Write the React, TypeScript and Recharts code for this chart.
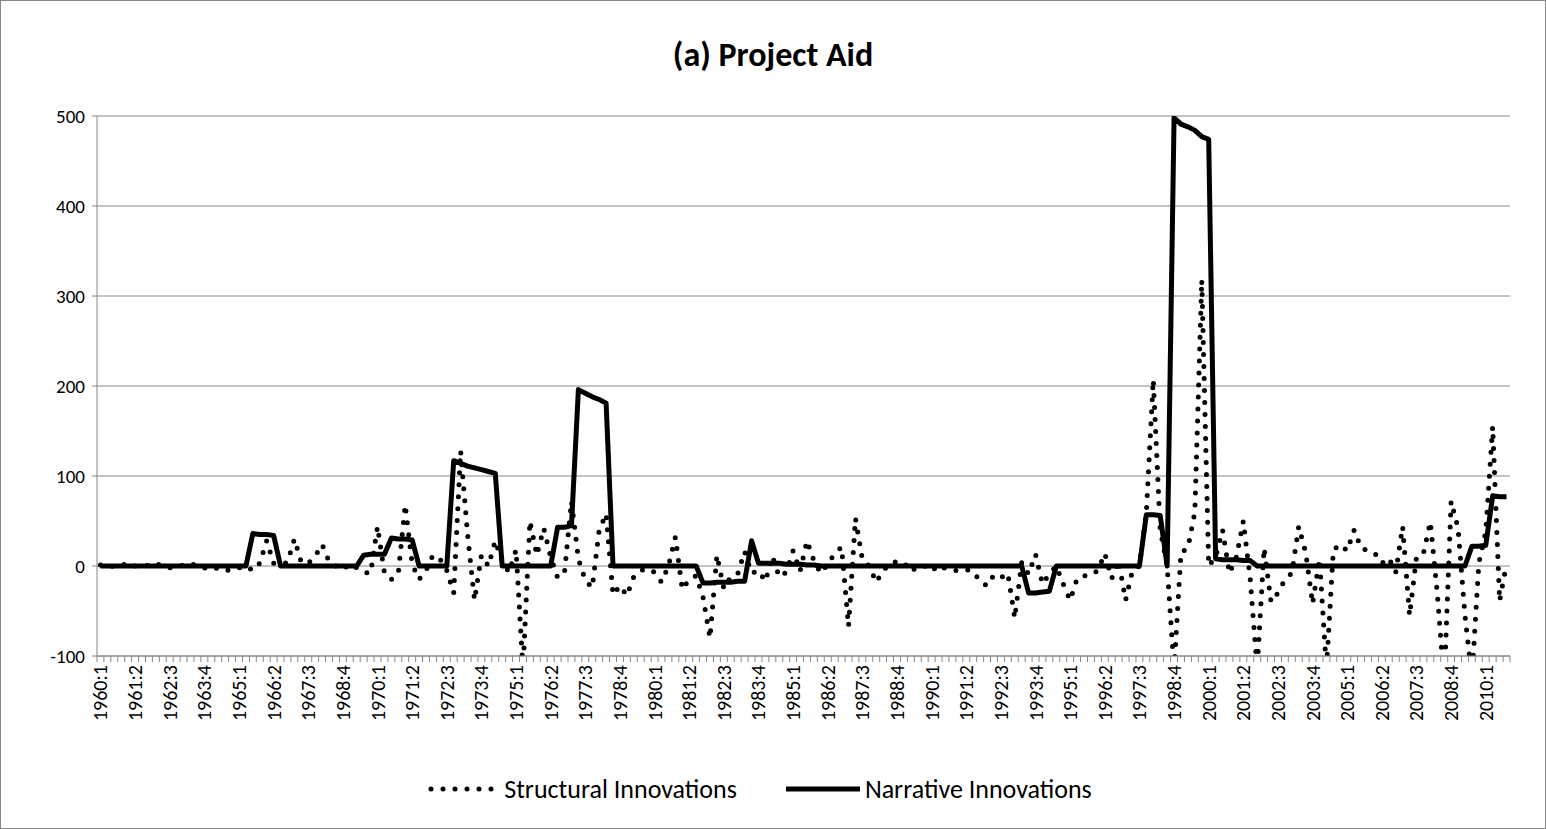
import { LineChart, Line, XAxis, YAxis, CartesianGrid, Legend } from 'recharts'

const FONT = 'Calibri, Carlito, Lato, sans-serif'
const AXIS = '#868686'

// quarterly labels 1960:1 .. 2010:4
const quarters: string[] = []
for (let y = 1960; y <= 2010; y++) {
  for (let q = 1; q <= 4; q++) quarters.push(`${y}:${q}`)
}

const yTicks = [-100, 0, 100, 200, 300, 400, 500]

// one row per year, four quarters each
const structural = [
  1, -1, 0, 1,
  3, 0, -1, 1,
  3, 0, -2, -1,
  1, 3, 0, -2,
  -4, -2, -5, -4,
  -2, 0, -5, 3,
  28, 3, 2, 4,
  30, 4, 3, 11,
  24, 5, 0, -4,
  2, -2, -7, -8,
  44, -8, -15, -8,
  68, 2, -15, -5,
  12, 8, -5, -30,
  128, 35, -38, 12,
  0, 28, 5, -7,
  18, -115, 50, 12,
  42, 10, -13, -7,
  72, 8, -16, -24,
  40, 58, -32, -22,
  -33, -12, -5, -3,
  -7, -18, 0, 32,
  -26, -15, -11, -35,
  -80, 12, -25, -12,
  -9, 16, -8, -5,
  -17, 11, -12, -7,
  17, -6, 28, 6,
  -8, 2, 14, 21,
  -67, 53, 7, 0,
  -18, -5, 3, 5,
  4, -6, -1, 0,
  -6, 1, -3, -5,
  -5, -4, -6, -17,
  -22, -10, -13, -8,
  -58, 4, -9, 13,
  -20, -9, 0, -20,
  -38, -14, -11, -10,
  -5, 14, -14, 6,
  -38, -5, 0, 60,
  207, 40, 0, -115,
  15, 20, 60, 318,
  0, 10, 40, -8,
  10, 50, -15, -115,
  20, -40, -30, -15,
  -8, 44, 15, -42,
  8, -115, 18, 24,
  17, 40, 20, 17,
  14, 3, 9, -7,
  44, -55, 10, 14,
  49, -30, -130, 72,
  42, -55, -125, 3,
  38, 155, -39, 3,
]

const narrative = [
  0, 0, 0, 0,
  0, 0, 0, 0,
  0, 0, 0, 0,
  0, 0, 0, 0,
  0, 0, 0, 0,
  0, 0, 36, 35,
  35, 34, 0, 0,
  0, 0, 0, 0,
  0, 0, 0, 0,
  0, 0, 12, 13,
  13, 13, 31, 30,
  30, 29, 0, 0,
  0, 0, 0, 117,
  114, 111, 109, 107,
  105, 103, 0, 0,
  0, 0, 0, 0,
  0, 0, 43, 43,
  45, 196, 192, 188,
  185, 181, 0, 0,
  0, 0, 0, 0,
  0, 0, 0, 0,
  0, 0, 0, -19,
  -19, -18, -18, -18,
  -17, -17, 28, 3,
  3, 3, 3, 2,
  2, 2, 1, 1,
  0, 0, 0, 0,
  0, 0, 0, 0,
  0, 0, 0, 0,
  0, 0, 0, 0,
  0, 0, 0, 0,
  0, 0, 0, 0,
  0, 0, 0, 0,
  0, 0, -30, -30,
  -29, -28, 0, 0,
  0, 0, 0, 0,
  0, 0, 0, 0,
  0, 0, 0, 57,
  57, 56, 0, 498,
  491, 488, 484, 477,
  474, 8, 7, 7,
  7, 6, 6, 0,
  0, 0, 0, 0,
  0, 0, 0, 0,
  0, 0, 0, 0,
  0, 0, 0, 0,
  0, 0, 0, 0,
  0, 0, 0, 0,
  0, 0, 0, 0,
  0, 0, 22, 22,
  23, 78, 77, 77,
]

const data = quarters.map((q, i) => ({ q, structural: structural[i], narrative: narrative[i] }))

const W = 1546
const H = 829

const XTick = ({ x, y, payload }: any) => {
  const i = quarters.indexOf(payload.value)
  const half = payload.offset || 3.46
  return (
    <g>
      <line x1={x - half} x2={x - half} y1={y - 6} y2={y} stroke={AXIS} />
      {i === quarters.length - 1 && <line x1={x + half} x2={x + half} y1={y - 6} y2={y} stroke={AXIS} />}
      {i % 5 === 0 && (
        <text
          x={x}
          y={y + 3}
          transform={`rotate(-90, ${x}, ${y + 3})`}
          textAnchor="end"
          dy="0.35em"
          fontSize={20}
          fontFamily={FONT}
          fill="#000"
        >
          {payload.value}
        </text>
      )}
    </g>
  )
}

const renderLegend = () => {
  const wrap: React.CSSProperties = {
    display: 'flex',
    justifyContent: 'center',
    alignItems: 'center',
    height: '60px',
    paddingLeft: '10px',
    fontFamily: FONT,
    fontSize: '26px',
    color: '#000',
  }
  return (
    <div style={wrap}>
      <svg width={68} height={10}>
        <line x1={3} x2={65} y1={5} y2={5} stroke="#000" strokeWidth={5} strokeDasharray="0 12" strokeLinecap="round" />
      </svg>
      <span style={{ marginLeft: '8px', marginRight: '48px' }}>Structural Innovations</span>
      <svg width={76} height={10}>
        <line x1={1} x2={75} y1={5} y2={5} stroke="#000" strokeWidth={5} />
      </svg>
      <span style={{ marginLeft: '4px' }}>Narrative Innovations</span>
    </div>
  )
}

export default function App() {
  const frame: React.CSSProperties = {
    position: 'absolute',
    left: 0,
    top: 0,
    width: W + 'px',
    height: H + 'px',
    boxSizing: 'border-box',
    border: '1px solid ' + AXIS,
    background: '#fff',
    fontFamily: FONT,
  }

  const titleStyle: React.CSSProperties = {
    position: 'absolute',
    left: 0,
    top: '33px',
    width: '100%',
    textAlign: 'center',
    fontSize: '34px',
    fontWeight: 700,
    lineHeight: '42px',
    color: '#000',
  }

  return (
    <div style={frame}>
      <div style={titleStyle}>(a) Project Aid</div>
      <div style={{ position: 'absolute', left: -1, top: -1 }}>
        <LineChart width={W} height={H} data={data} margin={{ top: 116, right: 36, left: 0, bottom: 10 }}>
          <CartesianGrid horizontal vertical={false} stroke={AXIS} strokeWidth={1} />
          <XAxis
            dataKey="q"
            scale="band"
            interval={0}
            height={103}
            tickSize={6}
            tickMargin={0}
            tickLine={false}
            axisLine={{ stroke: AXIS }}
            tick={<XTick />}
          />
          <YAxis
            domain={[-100, 500]}
            ticks={yTicks}
            allowDataOverflow
            width={97}
            tickSize={5}
            tickMargin={7}
            axisLine={{ stroke: AXIS }}
            tickLine={{ stroke: AXIS }}
            tick={{ fontSize: 19, fontFamily: FONT, fill: '#000' }}
          />
          <Legend verticalAlign="bottom" height={60} content={renderLegend} />
          <Line
            dataKey="structural"
            type="linear"
            stroke="#000"
            strokeWidth={5}
            strokeDasharray="0 12"
            strokeLinecap="round"
            dot={false}
            isAnimationActive={false}
          />
          <Line
            dataKey="narrative"
            type="linear"
            stroke="#000"
            strokeWidth={5}
            strokeLinejoin="round"
            dot={false}
            isAnimationActive={false}
          />
        </LineChart>
      </div>
    </div>
  )
}
